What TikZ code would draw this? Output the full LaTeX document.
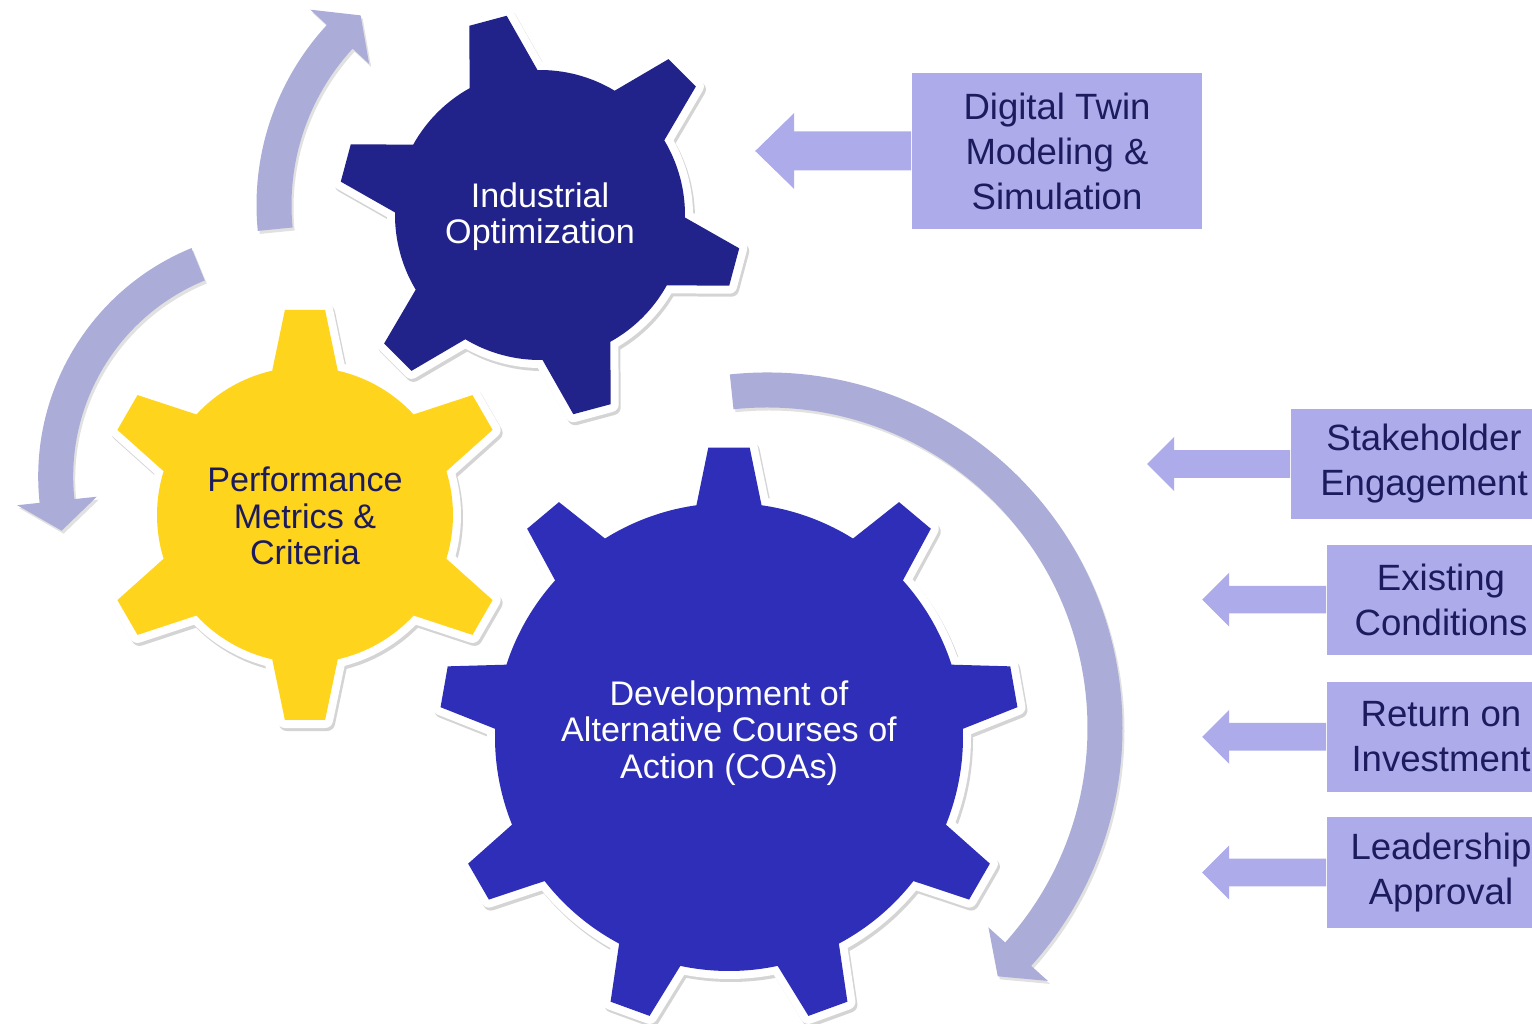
\documentclass[tikz,border=0pt]{standalone}
\usepackage{fontspec}
\setmainfont{Liberation Sans}
\definecolor{gearone}{HTML}{22238A}
\definecolor{geartwo}{HTML}{FFD41C}
\definecolor{gearthree}{HTML}{2E2EB8}
\definecolor{arcfill}{HTML}{ABADD8}
\definecolor{boxfill}{HTML}{ADABEA}
\definecolor{boxtext}{HTML}{1B1B5E}
\definecolor{shadowgray}{HTML}{D4D4D4}
\tikzset{
  gearshape/.style={fill=#1,
    preaction={fill=shadowgray, draw=shadowgray, line width=0.16cm, line join=round, transform canvas={shift={(2,-3)}}},
    preaction={draw=white, line width=0.16cm, line join=round}},
  arcarrow/.style={fill=arcfill,
    preaction={fill=shadowgray!70, transform canvas={shift={(2,-3)}}}},
  blockarrow/.style={fill=boxfill},
  geartext/.style={font=\fontsize{9.7}{10.3}\selectfont, align=center, inner sep=0pt},
  boxnode/.style={fill=boxfill, text=boxtext, font=\fontsize{10.4}{12.8}\selectfont, align=center, inner sep=0pt}
}
\begin{document}
\begin{tikzpicture}[x=0.01cm, y=0.01cm]
\useasboundingbox (0,0) rectangle (1532,1024);
\clip (0,0) rectangle (1532,1024);
\fill[white] (0,0) rectangle (1532,1024);

% curved arrows
\begin{scope}[shift={(522,819)}]
  \path[arcarrow] (185.6:265.5) arc[start angle=185.6, end angle=137.3, radius=265.5]
    -- (137.3:288) -- (130.4:249) -- (137.3:208) -- (137.3:230.5)
    arc[start angle=137.3, end angle=185.6, radius=230.5] -- cycle;
\end{scope}
\begin{scope}[shift={(285.2,547.4)}]
  \path[arcarrow] (112.3:247) arc[start angle=112.3, end angle=186.1, radius=247]
    -- (186.1:269.5) -- (193.6:230) -- (186.1:189.5) -- (186.1:212)
    arc[start angle=186.1, end angle=112.3, radius=212] -- cycle;
\end{scope}
\begin{scope}[shift={(767,296)}]
  \path[arcarrow] (96:355.5) arc[start angle=96, end angle=-42, radius=355.5]
    -- (-42:378) -- (-47.1:339) -- (-42:298) -- (-42:320.5)
    arc[start angle=-42, end angle=96, radius=320.5] -- cycle;
\end{scope}

% gear 1: Industrial Optimization
\begin{scope}[shift={(540,809)}]
  \path[gearshape=gearone] (91:145) \foreach \k in {0,...,5} {
      -- ({105+60*\k-14}:145) -- ({105+60*\k-5.5}:202) -- ({105+60*\k+5.5}:202) -- ({105+60*\k+14}:145)
      arc[start angle={105+60*\k+14}, end angle={105+60*\k+46}, radius=145]} -- cycle;
\end{scope}
% gear 2: Performance Metrics
\begin{scope}[shift={(305,509)}]
  \path[gearshape=geartwo] (77.2:148) \foreach \k in {0,...,5} {
      -- ({90+60*\k-12.8}:148) -- ({90+60*\k-5.6}:206) -- ({90+60*\k+5.6}:206) -- ({90+60*\k+12.8}:148)
      arc[start angle={90+60*\k+12.8}, end angle={90+60*\k+47.2}, radius=148]} -- cycle;
\end{scope}
% gear 3: Development of COAs
\begin{scope}[shift={(729,287)}]
  \path[gearshape=gearthree] (82:234) \foreach \k in {0,...,8} {
      -- ({90+40*\k-8}:234) -- ({90+40*\k-4.1}:290) -- ({90+40*\k+4.1}:290) -- ({90+40*\k+8}:234)
      arc[start angle={90+40*\k+8}, end angle={90+40*\k+32}, radius=234]} -- cycle;
\end{scope}

% gear texts
\node[geartext, text=white] (tio) at (540,807) {Industrial\\Optimization};
\node[geartext, text=boxtext] (tpm) at (305,508) {Performance\\Metrics \&\\Criteria};
\node[geartext, text=white] (tdc) at (729,291) {Development of\\Alternative Courses of\\Action (COAs)};

% boxes
\node[boxnode, minimum width=2.90cm, minimum height=1.56cm] (dt) at (1057,873) {Digital Twin\\Modeling \&\\Simulation};
\node[boxnode, minimum width=2.66cm, minimum height=1.10cm] (sh) at (1424,560) {Stakeholder\\Engagement};
\node[boxnode, minimum width=2.28cm, minimum height=1.10cm] (ec) at (1441,424.3) {Existing\\Conditions};
\node[boxnode, minimum width=2.28cm, minimum height=1.10cm] (ri) at (1441,287.2) {Return on\\Investment};
\node[boxnode, minimum width=2.28cm, minimum height=1.10cm] (la) at (1441,151.5) {Leadership\\Approval};

% block arrows
\path[blockarrow] (dt.west) ++(0,19.5) -- ++(-117,0) -- ++(0,18.5) -- ++(-39,-38) -- ++(39,-38) -- ++(0,18.5) -- ++(117,0) -- cycle;
\path[blockarrow] (sh.west) ++(0,13.8) -- ++(-116,0) -- ++(0,13.2) -- ++(-27,-27) -- ++(27,-27) -- ++(0,13.2) -- ++(116,0) -- cycle;
\path[blockarrow] (ec.west) ++(0,13.8) -- ++(-97,0) -- ++(0,13.2) -- ++(-27,-27) -- ++(27,-27) -- ++(0,13.2) -- ++(97,0) -- cycle;
\path[blockarrow] (ri.west) ++(0,13.8) -- ++(-97,0) -- ++(0,13.2) -- ++(-27,-27) -- ++(27,-27) -- ++(0,13.2) -- ++(97,0) -- cycle;
\path[blockarrow] (la.west) ++(0,13.8) -- ++(-97,0) -- ++(0,13.2) -- ++(-27,-27) -- ++(27,-27) -- ++(0,13.2) -- ++(97,0) -- cycle;
\end{tikzpicture}
\end{document}
